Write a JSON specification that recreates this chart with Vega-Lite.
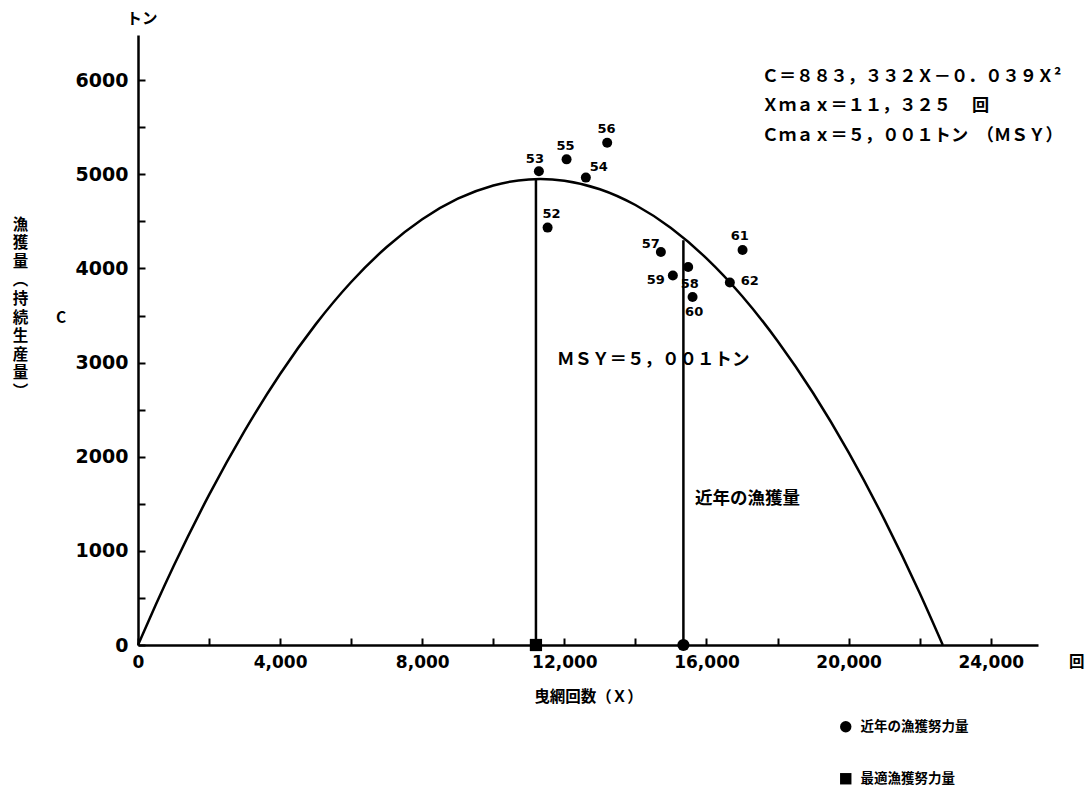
{
  "$schema": "https://vega.github.io/schema/vega-lite/v6.json",
  "width": 900,
  "height": 610,
  "autosize": {"type": "none"},
  "padding": {"left": 138, "top": 35, "right": 48, "bottom": 144},
  "background": "white",
  "config": {
    "view": {"stroke": null},
    "font": "Noto Sans CJK JP"
  },
  "datasets": {
    "curve": [
      {"X": 0, "C": 0}, {"X": 500, "C": 427}, {"X": 1000, "C": 836}, {"X": 2000, "C": 1594},
      {"X": 3000, "C": 2275}, {"X": 4000, "C": 2879}, {"X": 5000, "C": 3406}, {"X": 6000, "C": 3856},
      {"X": 7000, "C": 4228}, {"X": 8000, "C": 4523}, {"X": 9000, "C": 4741}, {"X": 10000, "C": 4882},
      {"X": 11000, "C": 4946}, {"X": 11325, "C": 4950}, {"X": 12000, "C": 4932}, {"X": 13000, "C": 4842},
      {"X": 14000, "C": 4674}, {"X": 15000, "C": 4429}, {"X": 16000, "C": 4107}, {"X": 17000, "C": 3707},
      {"X": 18000, "C": 3230}, {"X": 19000, "C": 2677}, {"X": 20000, "C": 2046}, {"X": 21000, "C": 1337},
      {"X": 22000, "C": 552}, {"X": 22650, "C": 0}
    ],
    "years": [
      {"year": "52", "X": 11528, "C": 4434},
      {"year": "53", "X": 11283, "C": 5032},
      {"year": "54", "X": 12605, "C": 4965},
      {"year": "55", "X": 12062, "C": 5159},
      {"year": "56", "X": 13205, "C": 5336},
      {"year": "57", "X": 14716, "C": 4175},
      {"year": "58", "X": 15484, "C": 4016},
      {"year": "59", "X": 15053, "C": 3925},
      {"year": "60", "X": 15608, "C": 3697},
      {"year": "61", "X": 17015, "C": 4196},
      {"year": "62", "X": 16657, "C": 3850}
    ],
    "yearLabels": [
      {"year": "52", "X": 11637, "C": 4583},
      {"year": "53", "X": 11171, "C": 5159},
      {"year": "54", "X": 12971, "C": 5078},
      {"year": "55", "X": 12034, "C": 5300},
      {"year": "56", "X": 13188, "C": 5478},
      {"year": "57", "X": 14434, "C": 4264},
      {"year": "58", "X": 15532, "C": 3840},
      {"year": "59", "X": 14575, "C": 3878},
      {"year": "60", "X": 15653, "C": 3538},
      {"year": "61", "X": 16939, "C": 4345},
      {"year": "62", "X": 17220, "C": 3867}
    ],
    "markers": [
      {"X": 11200, "C": 0, "kind": "最適漁獲努力量"},
      {"X": 15350, "C": 0, "kind": "近年の漁獲努力量"}
    ],
    "rules": [
      {"X": 11200, "C": 0, "C2": 4945},
      {"X": 15350, "C": 0, "C2": 4300}
    ],
    "formula": [
      {"X": 17558, "C": 6030, "text": "Ｃ＝８８３，３３２Ｘ－０．０３９Ｘ²"},
      {"X": 17558, "C": 5722, "text": "Ｘｍａｘ＝１１，３２５　 回"},
      {"X": 17558, "C": 5403, "text": "Ｃｍａｘ＝５，００１トン　（ＭＳＹ）"}
    ],
    "notes": [
      {"X": 11790, "C": 3025, "text": "ＭＳＹ＝５，００１トン"},
      {"X": 15673, "C": 1550, "text": "近年の漁獲量"}
    ],
    "units": [
      {"X": 113, "C": 6651, "text": "トン"},
      {"X": -2167, "C": 3471, "text": "C"},
      {"X": 26421, "C": -180, "text": "回"}
    ]
  },
  "encoding": {
    "x": {
      "field": "X", "type": "quantitative",
      "scale": {"domain": [0, 25330], "nice": false, "zero": false},
      "axis": {
        "values": [0, 2000, 4000, 6000, 8000, 10000, 12000, 14000, 16000, 18000, 20000, 22000, 24000],
        "labelExpr": "datum.value % 4000 === 0 ? format(datum.value, ',') : ''",
        "labelFlush": false, "labelOverlap": false,
        "labelFont": "DejaVu Sans", "labelFontSize": 17, "labelFontWeight": "bold", "labelColor": "black",
        "labelPadding": 16, "labelBaseline": "top",
        "tickSize": -7, "tickWidth": 2, "tickColor": "black",
        "domainColor": "black", "domainWidth": 2.5, "grid": false,
        "title": "曳網回数（Ｘ）",
        "titleX": 450, "titleY": 51, "titleBaseline": "middle", "titleAlign": "center",
        "titleFont": "Noto Sans CJK JP", "titleFontSize": 15.5, "titleFontWeight": "bold", "titleColor": "black"
      }
    },
    "y": {
      "field": "C", "type": "quantitative",
      "scale": {"domain": [0, 6480], "nice": false, "zero": false},
      "axis": {
        "values": [0, 500, 1000, 1500, 2000, 2500, 3000, 3500, 4000, 4500, 5000, 5500, 6000],
        "labelExpr": "datum.value % 1000 === 0 ? '' + datum.value : ''",
        "labelFlush": false, "labelOverlap": false,
        "labelFont": "DejaVu Sans", "labelFontSize": 19, "labelFontWeight": "bold", "labelColor": "black",
        "labelPadding": 17,
        "tickSize": -7, "tickWidth": 2, "tickColor": "black",
        "domainColor": "black", "domainWidth": 2.5, "grid": false,
        "title": ["漁", "獲", "量", "︵", "持", "続", "生", "産", "量", "︶"],
        "titleAngle": 0, "titleX": -118, "titleY": 182, "titleAlign": "center", "titleBaseline": "top",
        "titleLineHeight": 18.6,
        "titleFont": "Noto Sans CJK JP", "titleFontSize": 15.5, "titleFontWeight": "bold", "titleColor": "black"
      }
    }
  },
  "layer": [
    {
      "data": {"name": "curve"},
      "mark": {"type": "line", "color": "black", "strokeWidth": 2.5, "interpolate": "monotone"}
    },
    {
      "data": {"name": "rules"},
      "mark": {"type": "rule", "color": "black", "strokeWidth": 2.5},
      "encoding": {"y2": {"field": "C2"}}
    },
    {
      "data": {"name": "years"},
      "mark": {"type": "point", "filled": true, "color": "black", "opacity": 1, "size": 100}
    },
    {
      "data": {"name": "yearLabels"},
      "mark": {"type": "text", "font": "DejaVu Sans", "fontSize": 13, "fontWeight": "bold", "color": "black", "align": "center", "baseline": "middle"},
      "encoding": {"text": {"field": "year"}}
    },
    {
      "data": {"name": "markers"},
      "mark": {"type": "point", "filled": true, "color": "black", "opacity": 1, "size": 150},
      "encoding": {
        "shape": {
          "field": "kind", "type": "nominal",
          "scale": {"domain": ["近年の漁獲努力量", "最適漁獲努力量"], "range": ["circle", "square"]},
          "legend": {
            "orient": "none", "legendX": 701, "legendY": 685, "title": null, "padding": 0,
            "symbolSize": 130, "symbolFillColor": "black", "symbolStrokeColor": "black", "symbolOpacity": 1,
            "labelFont": "Noto Sans CJK JP", "labelFontSize": 13.5, "labelFontWeight": "bold", "labelColor": "black",
            "labelOffset": 8, "rowPadding": 34
          }
        }
      }
    },
    {
      "data": {"name": "formula"},
      "mark": {"type": "text", "font": "Noto Sans CJK JP", "fontSize": 17.2, "fontWeight": "bold", "color": "black", "align": "left", "baseline": "middle"},
      "encoding": {"text": {"field": "text"}}
    },
    {
      "data": {"name": "notes"},
      "mark": {"type": "text", "font": "Noto Sans CJK JP", "fontSize": 17.5, "fontWeight": "bold", "color": "black", "align": "left", "baseline": "middle"},
      "encoding": {"text": {"field": "text"}}
    },
    {
      "data": {"name": "units"},
      "mark": {"type": "text", "font": "Noto Sans CJK JP", "fontSize": 15.5, "fontWeight": "bold", "color": "black", "align": "center", "baseline": "middle"},
      "encoding": {"text": {"field": "text"}}
    }
  ]
}
